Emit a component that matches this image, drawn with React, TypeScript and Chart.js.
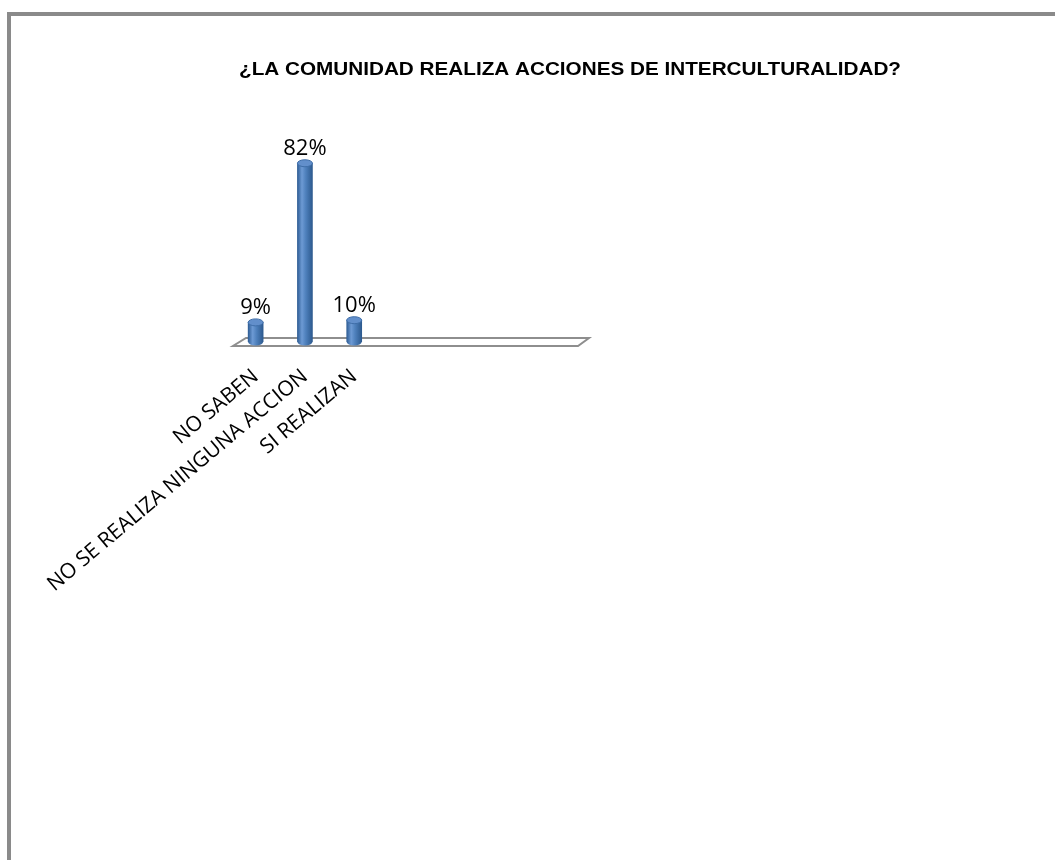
import React, { useEffect, useRef } from 'react';
import { Chart, registerables } from 'chart.js';

Chart.register(...registerables);

const TITLE = '¿LA COMUNIDAD REALIZA ACCIONES DE INTERCULTURALIDAD?';
const categories = ['NO SABEN', 'NO SE REALIZA NINGUNA ACCION', 'SI REALIZAN', '', '', '', ''];
const percentages: (number | null)[] = [9, 82, 10, null, null, null, null];
const Y_MIN = 0;
const Y_MAX = 100;

const floorPlugin = {
  id: 'floor3d',
  beforeDatasetsDraw(chart: any) {
    const { ctx, chartArea } = chart;
    const { left, right, bottom } = chartArea;
    ctx.save();
    ctx.beginPath();
    ctx.moveTo(left + 2, bottom + 4);
    ctx.lineTo(right + 2, bottom + 4);
    ctx.lineTo(right + 13, bottom - 4);
    ctx.lineTo(left + 15, bottom - 4);
    ctx.closePath();
    ctx.fillStyle = '#ffffff';
    ctx.fill();
    ctx.strokeStyle = '#8e8e8e';
    ctx.lineWidth = 2;
    ctx.stroke();
    ctx.restore();
  },
};

function cylGradient(ctx: CanvasRenderingContext2D, x: number, half: number) {
  const g = ctx.createLinearGradient(x - half, 0, x + half, 0);
  g.addColorStop(0, '#2f5e96');
  g.addColorStop(0.3, '#6d9ad4');
  g.addColorStop(0.55, '#4f81bd');
  g.addColorStop(1, '#2d5a8f');
  return g;
}

const cylinderPlugin = {
  id: 'cylinderCaps',
  afterDatasetsDraw(chart: any) {
    const { ctx } = chart;
    const meta = chart.getDatasetMeta(0);
    const data = chart.data.datasets[0].data;
    ctx.save();
    meta.data.forEach((el: any, i: number) => {
      if (data[i] == null) return;
      const half = el.width / 2;
      // bottom rounded edge
      ctx.beginPath();
      ctx.ellipse(el.x, el.base, half, 3.5, 0, 0, Math.PI);
      ctx.closePath();
      ctx.fillStyle = cylGradient(ctx, el.x, half);
      ctx.fill();
      // top cap
      ctx.beginPath();
      ctx.ellipse(el.x, el.y, half, 3.5, 0, 0, Math.PI * 2);
      ctx.fillStyle = '#628fcb';
      ctx.fill();
      ctx.strokeStyle = '#3f6ea8';
      ctx.lineWidth = 1;
      ctx.stroke();
    });
    ctx.restore();
  },
};

const valueLabelPlugin = {
  id: 'valueLabels',
  afterDatasetsDraw(chart: any) {
    const { ctx } = chart;
    const meta = chart.getDatasetMeta(0);
    const data = chart.data.datasets[0].data;
    ctx.save();
    ctx.font = '22px "Open Sans"';
    ctx.fillStyle = '#000000';
    ctx.textAlign = 'center';
    ctx.textBaseline = 'alphabetic';
    meta.data.forEach((el: any, i: number) => {
      if (data[i] == null) return;
      ctx.fillText(`${data[i]}%`, el.x, el.y - 8);
    });
    ctx.restore();
  },
};

const titlePlugin = {
  id: 'customTitle',
  afterDraw(chart: any) {
    const { ctx } = chart;
    ctx.save();
    ctx.font = 'bold 18px "Liberation Sans"';
    ctx.fillStyle = '#000000';
    ctx.textAlign = 'center';
    ctx.textBaseline = 'alphabetic';
    ctx.translate(570, 75);
    ctx.scale(1.15, 1);
    ctx.fillText(TITLE, 0, 0);
    ctx.restore();
  },
};

export default function App() {
  const canvasRef = useRef<HTMLCanvasElement | null>(null);

  useEffect(() => {
    if (!canvasRef.current) return;
    const chart = new Chart(canvasRef.current, {
      type: 'bar',
      data: {
        labels: categories,
        datasets: [
          {
            data: percentages,
            barThickness: 15,
            borderWidth: 0,
            backgroundColor: (c: any) => {
              const ch = c.chart;
              if (!ch.chartArea || !ch.scales.x) return '#4f81bd';
              const x = ch.scales.x.getPixelForValue(c.dataIndex);
              return cylGradient(ch.ctx, x, 7.5);
            },
          },
        ],
      },
      options: {
        responsive: false,
        animation: false,
        devicePixelRatio: 1,
        layout: { padding: { left: 231, right: 479, top: 124, bottom: 0 } },
        plugins: {
          legend: { display: false },
          title: { display: false },
          tooltip: { enabled: false },
        },
        scales: {
          x: {
            grid: { display: false, drawTicks: false },
            border: { display: false },
            ticks: {
              autoSkip: false,
              minRotation: 40,
              maxRotation: 40,
              padding: 22,
              color: '#000000',
              font: { family: '"Open Sans"', size: 21 },
            },
            afterFit(scale: any) {
              scale.height = 860 - 342;
            },
          },
          y: {
            display: false,
            min: Y_MIN,
            max: Y_MAX,
          },
        },
      },
      plugins: [floorPlugin, cylinderPlugin, valueLabelPlugin, titlePlugin],
    });
    return () => chart.destroy();
  }, []);

  return (
    <div style={{ position: 'absolute', left: 0, top: 0, width: 1055, height: 860, overflow: 'hidden', background: '#ffffff' }}>
      <div
        style={{
          position: 'absolute',
          left: 7,
          top: 12,
          width: 1100,
          height: 900,
          borderLeft: '4px solid #8a8a8a',
          borderTop: '4px solid #8a8a8a',
          boxSizing: 'border-box',
        }}
      />
      <canvas ref={canvasRef} width={1055} height={860} style={{ position: 'absolute', left: 0, top: 0, display: 'block' }} />
    </div>
  );
}
